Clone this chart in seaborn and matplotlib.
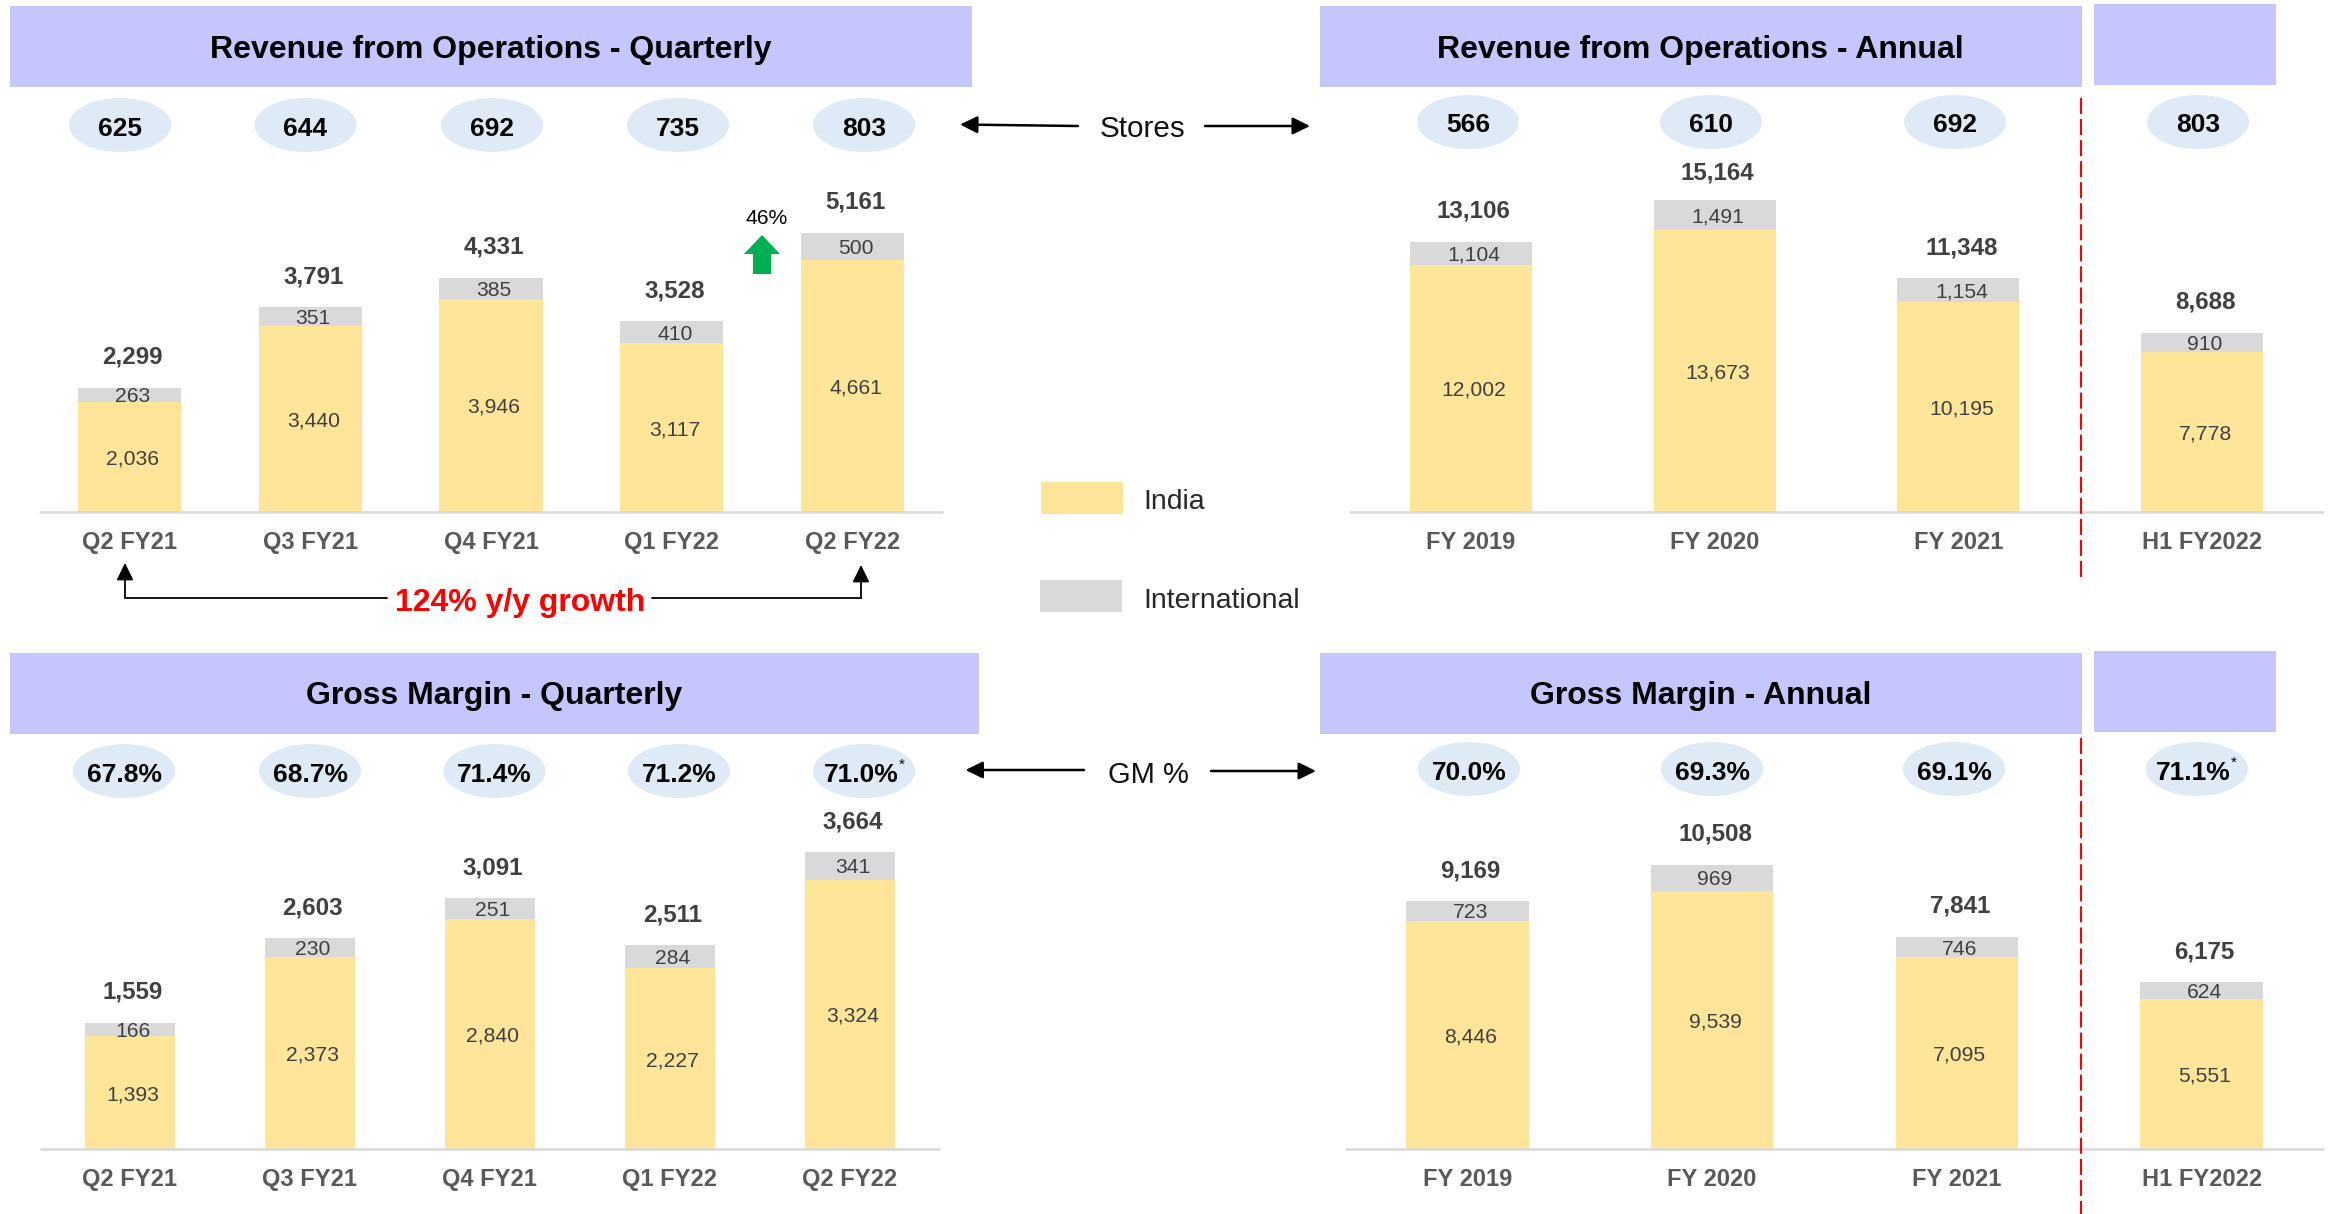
import matplotlib
matplotlib.use("Agg")
import matplotlib.pyplot as plt
from matplotlib.patches import Ellipse, Rectangle, Polygon
import pandas as pd
import seaborn as sns

# ---------- data ----------
quarters = ["Q2 FY21", "Q3 FY21", "Q4 FY21", "Q1 FY22", "Q2 FY22"]
years = ["FY 2019", "FY 2020", "FY 2021", "H1 FY2022"]

rev_q_india = [2036, 3440, 3946, 3117, 4661]
rev_q_intl = [263, 351, 385, 410, 500]
rev_q_total = [2299, 3791, 4331, 3528, 5161]
stores_q = ["625", "644", "692", "735", "803"]

rev_a_india = [12002, 13673, 10195, 7778]
rev_a_intl = [1104, 1491, 1154, 910]
rev_a_total = [13106, 15164, 11348, 8688]
stores_a = ["566", "610", "692", "803"]

gm_q_india = [1393, 2373, 2840, 2227, 3324]
gm_q_intl = [166, 230, 251, 284, 341]
gm_q_total = [1559, 2603, 3091, 2511, 3664]
gm_pct_q = ["67.8%", "68.7%", "71.4%", "71.2%", "71.0%"]

gm_a_india = [8446, 9539, 7095, 5551]
gm_a_intl = [723, 969, 746, 624]
gm_a_total = [9169, 10508, 7841, 6175]
gm_pct_a = ["70.0%", "69.3%", "69.1%", "71.1%"]

# ---------- style ----------
W, H = 2329, 1214
sns.set_theme(style="white")
plt.rcParams["font.family"] = ["Liberation Sans", "DejaVu Sans"]

YELLOW = "#FEE599"
GREY = "#D9D9D9"
HEADER = "#C5C6FD"
BUBBLE = "#DEEAF6"
DARK = "#404040"
TICK = "#595959"

fig = plt.figure(figsize=(W / 100, H / 100), dpi=100, facecolor="white")


def panel(left, right, base, top, px_per_unit, width, cats, india, intl, total, nudge=None):
    ax = fig.add_axes([left / W, 1 - base / H, (right - left) / W, (base - top) / H])
    df = pd.DataFrame({"period": cats, "India": india, "International": intl, "Total": total})
    sns.barplot(data=df, x="period", y="Total", color=GREY, saturation=1, width=width, ax=ax, linewidth=0)
    sns.barplot(data=df, x="period", y="India", color=YELLOW, saturation=1, width=width, ax=ax, linewidth=0)
    ax.set_xlim(-0.5, len(cats) - 0.5)
    ax.set_ylim(0, (base - top) / px_per_unit)
    ax.set_xlabel("")
    ax.set_ylabel("")
    ax.yaxis.set_visible(False)
    ax.patch.set_alpha(0)
    for s in ("top", "left", "right"):
        ax.spines[s].set_visible(False)
    ax.spines["bottom"].set_color("#D9D9D9")
    ax.spines["bottom"].set_linewidth(1.8)
    ax.spines["bottom"].set_capstyle("butt")
    ax.tick_params(axis="x", length=0, pad=14)
    for lab in ax.get_xticklabels():
        lab.set_fontsize(17)
        lab.set_fontweight("bold")
        lab.set_color(TICK)
    nudge = nudge or {}
    for i in range(len(cats)):
        ax.annotate(f"{india[i]:,}", (i, india[i] / 2), xytext=(3, 0), textcoords="offset pixels",
                    ha="center", va="center_baseline", fontsize=15.2, color=DARK)
        ax.annotate(f"{intl[i]:,}", (i, india[i] + (total[i] - india[i]) / 2), xytext=(3, 0),
                    textcoords="offset pixels", ha="center", va="center_baseline", fontsize=15.2, color=DARK)
        ax.annotate(f"{total[i]:,}", (i, total[i]), xytext=(3, nudge.get(i, 33)), textcoords="offset pixels",
                    ha="center", va="center_baseline", fontsize=17.4, fontweight="bold", color=DARK)
    return ax


panel(39, 943, 512, 120, 279 / 5161, 0.57, quarters, rev_q_india, rev_q_intl, rev_q_total)
panel(1349, 2324, 512, 120, 312.5 / 15164, 0.5, years, rev_a_india, rev_a_intl, rev_a_total, nudge={1: 29})
panel(39.5, 940, 1149, 800, 297 / 3664, 0.5, quarters, gm_q_india, gm_q_intl, gm_q_total)
panel(1345, 2324, 1149, 800, 167 / 6175, 0.5, years, gm_a_india, gm_a_intl, gm_a_total)

# ---------- annotation layer, in picture pixels ----------
ov = fig.add_axes([0, 0, 1, 1], zorder=5)
ov.set_xlim(0, W)
ov.set_ylim(H, 0)
ov.axis("off")
ov.patch.set_alpha(0)


def box(x0, x1, y0, y1, color=HEADER):
    ov.add_patch(Rectangle((x0, y0), x1 - x0, y1 - y0, facecolor=color, edgecolor="none"))


box(10, 972, 6, 87)
box(1320, 2082, 6, 87)
box(2094, 2276, 4, 85)
box(10, 979, 653, 734)
box(1320, 2082, 653, 734)
box(2094, 2276, 651, 732)

for txt, x, y in [("Revenue from Operations - Quarterly", 491, 50),
                  ("Revenue from Operations - Annual", 1700, 50),
                  ("Gross Margin - Quarterly", 494, 696),
                  ("Gross Margin - Annual", 1701, 696)]:
    ov.text(x, y, txt, ha="center", va="center", fontsize=23, fontweight="bold", color="black")


def bubbles(labels, xs, y):
    for lab, x in zip(labels, xs):
        ov.add_patch(Ellipse((x, y), 102, 54, facecolor=BUBBLE, edgecolor="none"))
        ov.text(x, y + 1, lab, ha="center", va="center_baseline", fontsize=19, fontweight="bold", color="black")


bubbles(stores_q, [120, 305.5, 492, 678, 864], 125)
bubbles(stores_a, [1468, 1711, 1955, 2198], 122)

for lab, x in zip(gm_pct_q, [124, 310, 494.5, 679, 864]):
    ov.add_patch(Ellipse((x, 771), 102, 54, facecolor=BUBBLE, edgecolor="none"))
    ov.text(x - 3 if lab == gm_pct_q[-1] else x, 772, lab, ha="center", va="center_baseline",
            fontsize=19, fontweight="bold", color="black")
for lab, x in zip(gm_pct_a, [1469, 1712, 1954, 2197]):
    ov.add_patch(Ellipse((x, 769), 102, 54, facecolor=BUBBLE, edgecolor="none"))
    ov.text(x - 4 if lab == gm_pct_a[-1] else x, 770, lab, ha="center", va="center_baseline",
            fontsize=19, fontweight="bold", color="black")
ov.text(902, 765, "*", ha="center", va="center", fontsize=11, color="black")
ov.text(2234, 763, "*", ha="center", va="center", fontsize=11, color="black")


def arrow(x0, y0, x1, y1, lw=1.8):
    ov.annotate("", xy=(x1, y1), xytext=(x0, y0),
                arrowprops=dict(arrowstyle="-|>,head_length=0.65,head_width=0.32", color="black", lw=lw,
                                shrinkA=0, shrinkB=0, mutation_scale=16))


arrow(1078, 126, 960, 124.5)
arrow(1205, 126, 1310, 126)
arrow(1084, 770, 965.5, 770)
arrow(1211, 771, 1316, 771)
ov.text(1142.5, 126, "Stores", ha="center", va="center_baseline", fontsize=21.3, color="#111111")
ov.text(1148, 772, "GM %", ha="center", va="center_baseline", fontsize=21, color="#111111")

# legend
box(1041, 1123, 482, 514, YELLOW)
box(1040, 1122, 580, 612, GREY)
ov.text(1143.5, 499, "India", ha="left", va="center_baseline", fontsize=20.4, color="#262626")
ov.text(1143.5, 598, "International", ha="left", va="center_baseline", fontsize=20.4, color="#262626")

# dashed dividers
for x, y0, y1 in [(2081.3, 98, 578), (2081.3, 738, 1214)]:
    ov.plot([x, x], [y0, y1], color="#FF0000", lw=1.5, dashes=(7.7, 2.4))

# y/y bracket
ov.plot([125, 125, 387], [575, 597.5, 597.5], color="black", lw=1.3, solid_joinstyle="miter")
ov.plot([652, 861, 861], [598, 598, 575], color="black", lw=1.3, solid_joinstyle="miter")
arrow(125, 580, 125, 563, lw=1.3)
arrow(861, 582, 861, 565, lw=1.3)
ov.text(520.5, 599, "124% y/y growth", ha="center", va="center_baseline", fontsize=23, fontweight="bold",
        color="#FF0000")

# green growth arrow
ov.add_patch(Polygon([(753, 274), (771, 274), (771, 254), (780, 254), (762, 235), (744, 254), (753, 254)],
                     closed=True, facecolor="#00B050", edgecolor="none"))
ov.text(767, 217, "46%", ha="center", va="center_baseline", fontsize=15.2, color="black")

fig.savefig("out.png", dpi=100, facecolor="white")
